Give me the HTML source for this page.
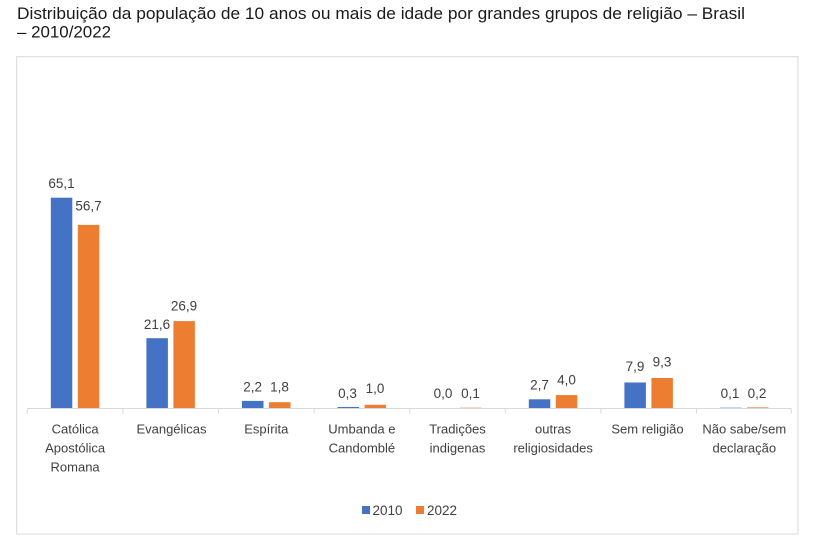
<!DOCTYPE html>
<html>
<head>
<meta charset="utf-8">
<style>
  html, body { margin:0; padding:0; background:#ffffff; }
  body { width:815px; height:540px; overflow:hidden; }
  svg { display:block; }
  .t { font-family:"Liberation Sans", Arial, sans-serif; fill:#1a1a1a; font-size:17px; }
  .d { font-family:"Liberation Sans", Arial, sans-serif; fill:#404040; font-size:13.5px; text-anchor:middle; }
  .c { font-family:"Liberation Sans", Arial, sans-serif; fill:#404040; font-size:13px; text-anchor:middle; }
  .l { font-family:"Liberation Sans", Arial, sans-serif; fill:#404040; font-size:13.5px; }
</style>
</head>
<body>
<svg width="815" height="540" viewBox="0 0 815 540" xmlns="http://www.w3.org/2000/svg">
  <rect x="0" y="0" width="815" height="540" fill="#ffffff"/>
  <!-- Title -->
  <text class="t" x="17" y="19" textLength="728" lengthAdjust="spacingAndGlyphs">Distribuição da população de 10 anos ou mais de idade por grandes grupos de religião – Brasil</text>
  <text class="t" x="17" y="37.5" textLength="94" lengthAdjust="spacingAndGlyphs">– 2010/2022</text>

  <!-- Chart frame -->
  <rect x="16.7" y="56.7" width="781.3" height="477.3" fill="#ffffff" stroke="#d9d9d9" stroke-width="1"/>

  <!-- Bars 2010 -->
  <g fill="#4472C4">
    <rect x="50.8" y="197.7" width="21.5" height="210.3"/>
    <rect x="146.4" y="338.2" width="21.5" height="69.8"/>
    <rect x="242.0" y="400.9" width="21.5" height="7.1"/>
    <rect x="337.6" y="407.0" width="21.5" height="1.0"/>
    <rect x="528.8" y="399.3" width="21.5" height="8.7"/>
    <rect x="624.4" y="382.5" width="21.5" height="25.5"/>
    <rect x="720.0" y="407.7" width="21.5" height="0.3"/>
  </g>
  <!-- Bars 2022 -->
  <g fill="#ED7D31">
    <rect x="77.8" y="224.9" width="21.5" height="183.1"/>
    <rect x="173.4" y="321.1" width="21.5" height="86.9"/>
    <rect x="269.0" y="402.2" width="21.5" height="5.8"/>
    <rect x="364.6" y="404.8" width="21.5" height="3.2"/>
    <rect x="460.2" y="407.7" width="21.5" height="0.3"/>
    <rect x="555.8" y="395.1" width="21.5" height="12.9"/>
    <rect x="651.4" y="378.0" width="21.5" height="30.0"/>
    <rect x="747.0" y="407.4" width="21.5" height="0.6"/>
  </g>

  <!-- Axis -->
  <g stroke="#d9d9d9" stroke-width="1">
    <line x1="27.3" y1="408.5" x2="791.3" y2="408.5"/>
    <line x1="27.3" y1="408.5" x2="27.3" y2="413.5"/>
    <line x1="122.9" y1="408.5" x2="122.9" y2="413.5"/>
    <line x1="218.5" y1="408.5" x2="218.5" y2="413.5"/>
    <line x1="314.1" y1="408.5" x2="314.1" y2="413.5"/>
    <line x1="409.7" y1="408.5" x2="409.7" y2="413.5"/>
    <line x1="505.3" y1="408.5" x2="505.3" y2="413.5"/>
    <line x1="600.9" y1="408.5" x2="600.9" y2="413.5"/>
    <line x1="696.5" y1="408.5" x2="696.5" y2="413.5"/>
    <line x1="791.3" y1="408.5" x2="791.3" y2="413.5"/>
  </g>

  <!-- Data labels -->
  <text class="d" x="61.5" y="188">65,1</text>
  <text class="d" x="88.5" y="210.5">56,7</text>
  <text class="d" x="157" y="329">21,6</text>
  <text class="d" x="184" y="310.5">26,9</text>
  <text class="d" x="252.7" y="391.5">2,2</text>
  <text class="d" x="279.5" y="391.5">1,8</text>
  <text class="d" x="347.5" y="398">0,3</text>
  <text class="d" x="375" y="393">1,0</text>
  <text class="d" x="443" y="398">0,0</text>
  <text class="d" x="470.5" y="398">0,1</text>
  <text class="d" x="539.5" y="389.5">2,7</text>
  <text class="d" x="566.5" y="384.5">4,0</text>
  <text class="d" x="635" y="371">7,9</text>
  <text class="d" x="662" y="366.5">9,3</text>
  <text class="d" x="730" y="398">0,1</text>
  <text class="d" x="757" y="398">0,2</text>

  <!-- Category labels -->
  <text class="c" x="75.1" y="433.5">Católica</text>
  <text class="c" x="75.1" y="452.5">Apostólica</text>
  <text class="c" x="75.1" y="471.5">Romana</text>
  <text class="c" x="171.5" y="433.5">Evangélicas</text>
  <text class="c" x="266.3" y="433.5">Espírita</text>
  <text class="c" x="361.9" y="433.5">Umbanda e</text>
  <text class="c" x="361.9" y="452.5">Candomblé</text>
  <text class="c" x="457.5" y="433.5">Tradições</text>
  <text class="c" x="457.5" y="452.5">indigenas</text>
  <text class="c" x="553.1" y="433.5">outras</text>
  <text class="c" x="553.1" y="452.5">religiosidades</text>
  <text class="c" x="647.5" y="433.5">Sem religião</text>
  <text class="c" x="744.3" y="433.5">Não sabe/sem</text>
  <text class="c" x="744.3" y="452.5">declaração</text>

  <!-- Legend -->
  <rect x="362" y="506" width="8" height="8" fill="#4472C4"/>
  <text class="l" x="372.5" y="515">2010</text>
  <rect x="416" y="506" width="8" height="8" fill="#ED7D31"/>
  <text class="l" x="427" y="515">2022</text>
</svg>
</body>
</html>
